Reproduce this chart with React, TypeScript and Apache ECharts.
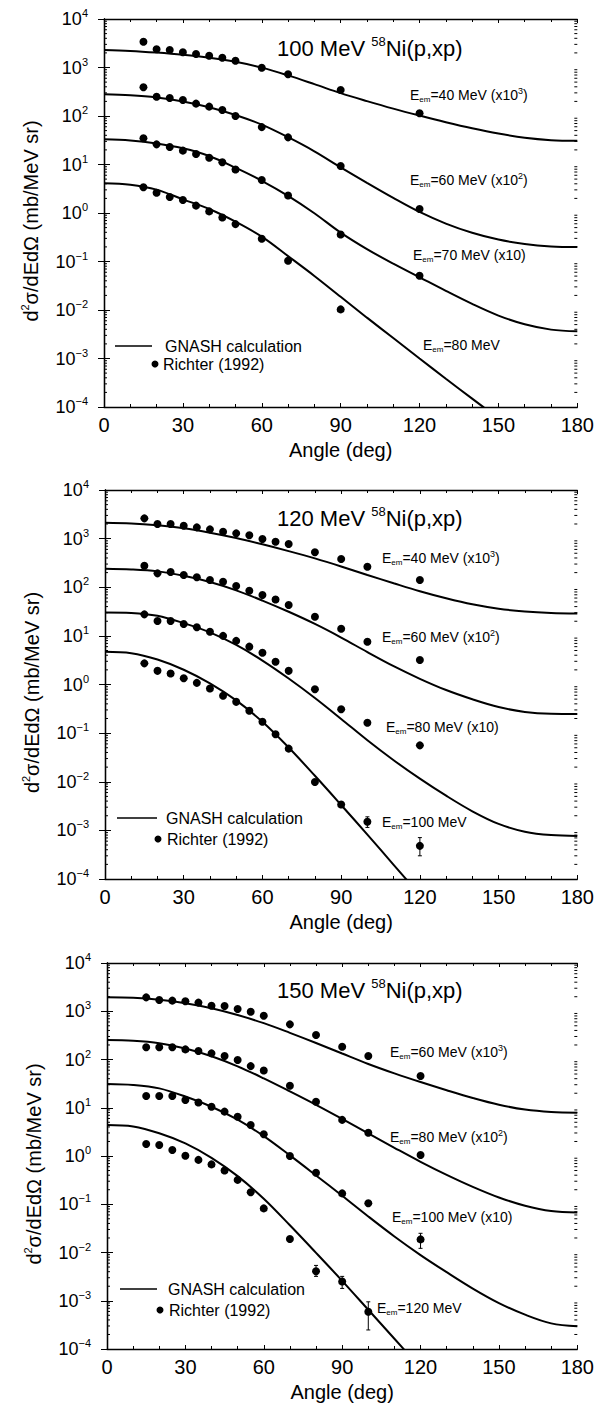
import React, { useEffect, useRef } from "react";
import * as echarts from "echarts";

const FONT = '"Liberation Sans", Arial, Helvetica, sans-serif';

// ---------- shared ----------
const curveAngles = [0, 10, 20, 30, 40, 50, 60, 70, 80, 90, 100, 110, 120, 130, 140, 150, 160, 170, 180];
const xTickLabels = ["0", "30", "60", "90", "120", "150", "180"];
const legendLine = "GNASH calculation";
const legendDots = "Richter (1992)";
const xName = "Angle (deg)";

// ---------- panel 1 : 100 MeV ----------
const p1Title = ["100 MeV ", "58", "Ni(p,xp)"];
const p1Energies = [40, 60, 70, 80];
const p1Scales = ["3", "2", "1", ""];
const p1Curve40 = [2301, 2198, 2028, 1828, 1592, 1309, 993, 687, 454, 296, 203, 142, 102, 74.5, 55.8, 43.4, 35.6, 31.8, 30.7];
const p1Curve60 = [280, 267, 241, 200, 152, 105, 66.4, 36.5, 18.7, 8.75, 4.19, 2.05, 1.05, 0.605, 0.391, 0.283, 0.23, 0.205, 0.198];
const p1Curve70 = [33.1, 31.3, 27.2, 21.6, 15.0, 8.6, 4.62, 2.26, 0.99, 0.394, 0.18, 0.0902, 0.0473, 0.0248, 0.01334, 0.00767, 0.00507, 0.00394, 0.00363];
const p1Curve80 = [4.09, 3.82, 3.03, 1.91, 1.21, 0.664, 0.325, 0.129, 0.0504, 0.0187, 0.00695, 0.00264, 0.001, 0.000382, 0.000149, 0.0000578];
const p1Angles = [15, 20, 25, 30, 35, 40, 45, 50, 60, 70, 90, 120];
const p1Data40 = [3400, 2370, 2290, 2060, 1900, 1750, 1590, 1380, 990, 724, 344, 114];
const p1Data60 = [391, 250, 235, 214, 180, 156, 133, 100, 59, 36.3, 9.3, 1.21];
const p1Data70 = [34.7, 26, 23, 19.3, 16.5, 13.8, 11.1, 7.9, 4.8, 2.3, 0.36, 0.051];
const p1Angles80 = [15, 20, 25, 30, 35, 40, 45, 50, 60, 70, 90];
const p1Data80 = [3.4, 2.62, 2.14, 1.85, 1.42, 1.08, 0.81, 0.59, 0.295, 0.104, 0.0103];

// ---------- panel 2 : 120 MeV ----------
const p2Title = ["120 MeV ", "58", "Ni(p,xp)"];
const p2Energies = [40, 60, 80, 100];
const p2Scales = ["3", "2", "1", ""];
const p2Curve40 = [2128, 2056, 1875, 1633, 1327, 1030, 764, 553, 392, 268, 179, 121, 82.8, 59.3, 44.5, 36.1, 31.8, 29.7, 29.0];
const p2Curve60 = [240, 232, 212, 172, 128, 86.3, 53.2, 31.3, 17.6, 9.25, 4.63, 2.38, 1.31, 0.769, 0.497, 0.344, 0.273, 0.249, 0.246];
const p2Curve80 = [30.4, 29.7, 25.9, 18.3, 11.8, 6.5, 3.11, 1.33, 0.528, 0.196, 0.0713, 0.0277, 0.01156, 0.00516, 0.00247, 0.00136, 0.00094, 0.0008, 0.00077];
const p2Curve100 = [4.71, 4.4, 3.26, 2.01, 1.054, 0.471, 0.171, 0.0505, 0.01327, 0.00333, 0.000818, 0.000196, 0.0000471];
const p2Angles = [15, 20, 25, 30, 35, 40, 45, 50, 55, 60, 65, 70, 80, 90, 100, 120];
const p2Data40 = [2610, 2000, 2000, 1845, 1706, 1550, 1387, 1284, 1170, 982, 863, 774, 523, 380, 264, 141];
const p2Data60 = [277, 193, 206, 178, 160, 141, 130, 106, 85, 69, 56, 43, 24.7, 14, 7.6, 3.18];
const p2Data80 = [27.7, 20.2, 20.2, 17.5, 15, 12.2, 10, 7.9, 6.0, 4.5, 2.93, 1.91, 0.8, 0.31, 0.163, 0.056];
const p2Data100 = [2.72, 1.91, 1.69, 1.34, 1.08, 0.83, 0.586, 0.44, 0.288, 0.171, 0.095, 0.048, 0.0099, 0.0034, 0.0015, 0.00048];
const p2ErrAngles = [100, 120];
const p2ErrLow = [0.00115, 0.0003];
const p2ErrHigh = [0.0019, 0.00071];

// ---------- panel 3 : 150 MeV ----------
const p3Title = ["150 MeV ", "58", "Ni(p,xp)"];
const p3Energies = [60, 80, 100, 120];
const p3Scales = ["3", "2", "1", ""];
const p3Curve60 = [1941, 1897, 1730, 1472, 1156, 837, 566, 357, 220, 133, 80.9, 51.6, 34.1, 23.1, 15.96, 11.56, 9.18, 8.18, 7.91];
const p3Curve80 = [254, 245, 218, 169, 117, 72.3, 40.6, 21.8, 11.5, 5.87, 2.94, 1.48, 0.757, 0.406, 0.229, 0.138, 0.0931, 0.0723, 0.0675];
const p3Curve100 = [31.0, 29.6, 25.2, 17.1, 10.5, 5.65, 2.58, 1.028, 0.395, 0.15, 0.0558, 0.0215, 0.00885, 0.00391, 0.00179, 0.000895, 0.000515, 0.00034, 0.000296];
const p3Curve120 = [4.4, 4.1, 2.97, 1.83, 0.918, 0.383, 0.13, 0.0366, 0.00984, 0.00259, 0.00065, 0.000163, 0.000041];
const p3Angles = [15, 20, 25, 30, 35, 40, 45, 50, 55, 60, 70, 80, 90, 100, 120];
const p3Data60 = [1940, 1710, 1660, 1610, 1510, 1305, 1286, 1115, 980, 808, 535, 322, 184, 118, 45.5];
const p3Data80 = [179, 179, 179, 162, 150, 134, 118, 98, 73, 59, 28.6, 13.3, 5.6, 3.04, 1.05];
const p3Data100 = [17.5, 17.5, 17.5, 14.5, 12.8, 10.5, 8.3, 6.5, 4.4, 2.82, 1.0, 0.45, 0.168, 0.105, 0.0187];
const p3Angles120 = [15, 20, 25, 30, 35, 40, 45, 50, 55, 60, 70, 80, 90, 100];
const p3Data120 = [1.77, 1.69, 1.33, 1.01, 0.83, 0.67, 0.5, 0.32, 0.177, 0.082, 0.019, 0.0041, 0.0025, 0.00059];
const p3ErrAngles = [120, 80, 90, 100];
const p3ErrLow = [0.0122, 0.0032, 0.0018, 0.000248];
const p3ErrHigh = [0.025, 0.0054, 0.0032, 0.00095];

// ---------- layout (pixels) ----------
const GRIDS = [
  { left: 104, top: 19, width: 474, height: 388 },
  { left: 105, top: 490, width: 474, height: 389 },
  { left: 107, top: 963, width: 475, height: 386 },
];
const TITLE_POS = [[277, 48], [277, 518], [277, 990]];
const LABEL_POS = [
  [[410, 95], [410, 180], [413, 255], [423, 345]],
  [[382, 558], [382, 637], [386, 727], [382, 822]],
  [[390, 1052], [390, 1137], [392, 1217], [377, 1308]],
];
const LEGEND_POS = [
  { lx1: 115, lx2: 152, ly: 346, tx: 165, dx: 155, dy: 364, dtx: 163 },
  { lx1: 117, lx2: 157, ly: 818, tx: 166, dx: 158, dy: 839, dtx: 167 },
  { lx1: 120, lx2: 157, ly: 1289, tx: 168, dx: 160, dy: 1310, dtx: 169 },
];

const panels = [
  {
    title: p1Title, energies: p1Energies, scales: p1Scales,
    curves: [p1Curve40, p1Curve60, p1Curve70, p1Curve80],
    points: [[p1Angles, p1Data40], [p1Angles, p1Data60], [p1Angles, p1Data70], [p1Angles80, p1Data80]],
    errors: [[], [], []],
  },
  {
    title: p2Title, energies: p2Energies, scales: p2Scales,
    curves: [p2Curve40, p2Curve60, p2Curve80, p2Curve100],
    points: [[p2Angles, p2Data40], [p2Angles, p2Data60], [p2Angles, p2Data80], [p2Angles, p2Data100]],
    errors: [p2ErrAngles, p2ErrLow, p2ErrHigh],
  },
  {
    title: p3Title, energies: p3Energies, scales: p3Scales,
    curves: [p3Curve60, p3Curve80, p3Curve100, p3Curve120],
    points: [[p3Angles, p3Data60], [p3Angles, p3Data80], [p3Angles, p3Data100], [p3Angles120, p3Data120]],
    errors: [p3ErrAngles, p3ErrLow, p3ErrHigh],
  },
];

// minor tick positions of the log axis (2..9 x 10^n)
const minorTickValues: number[] = [];
for (let n = -4; n < 4; n++) for (let k = 2; k <= 9; k++) minorTickValues.push(k * Math.pow(10, n));

const supLabel = (v: number) => {
  const e = Math.round(Math.log10(v));
  return `{b|10}{s|${e < 0 ? "\u2212" + Math.abs(e) : e}}`;
};

function buildOption() {
  const grid: any[] = [];
  const xAxis: any[] = [];
  const yAxis: any[] = [];
  const series: any[] = [];
  const graphic: any[] = [];
  const axisLine = { show: true, lineStyle: { color: "#000", width: 1.3 } };

  panels.forEach((p, i) => {
    grid.push({ ...GRIDS[i], containLabel: false });
    const baseX = {
      type: "value", gridIndex: i, min: 0, max: 180, interval: 30,
      axisLine, splitLine: { show: false },
      axisTick: { show: true, inside: true, length: 4, lineStyle: { color: "#000" } },
      minorTick: { show: true, splitNumber: 3, length: 3, lineStyle: { color: "#000" } },
    };
    xAxis.push({
      ...baseX, position: "bottom",
      axisLabel: {
        show: true, color: "#000", fontSize: 20, fontFamily: FONT, margin: 8,
        formatter: (v: number) => xTickLabels[Math.round(v / 30)] ?? String(v),
      },
      name: xName, nameLocation: "middle", nameGap: 33,
      nameTextStyle: { color: "#000", fontSize: 20, fontFamily: FONT },
    });
    xAxis.push({ ...baseX, position: "top", axisLabel: { show: false } });
    const baseY = {
      type: "log", gridIndex: i, min: 1e-4, max: 1e4, logBase: 10, splitNumber: 8,
      axisLine, splitLine: { show: false },
      axisTick: { show: true, inside: true, length: 6, lineStyle: { color: "#000" } },
    };
    yAxis.push({
      ...baseY, position: "left",
      axisLabel: {
        show: true, margin: 16, formatter: supLabel,
        rich: {
          b: { fontSize: 18, fontFamily: FONT, color: "#000" },
          s: { fontSize: 11, fontFamily: FONT, color: "#000", padding: [0, 0, 12, 0] },
        },
      },
      name: "{t|d}{s|2}{t|\u03c3/dEd\u03a9 (mb/MeV sr)}",
      nameLocation: "middle", nameGap: 62,
      nameTextStyle: {
        padding: [0, 16, 0, 0],
        rich: {
          t: { fontSize: 20, fontFamily: FONT, color: "#000" },
          s: { fontSize: 11, fontFamily: FONT, color: "#000", padding: [0, 0, 12, 0] },
        },
      },
    });
    yAxis.push({ ...baseY, position: "right", axisLabel: { show: false } });

    const xi = 2 * i;
    p.curves.forEach((c) => {
      series.push({
        type: "line", xAxisIndex: xi, yAxisIndex: xi, showSymbol: false, smooth: 0.35,
        clip: true, silent: true,
        lineStyle: { color: "#000", width: 2 },
        data: c.map((v, k) => [curveAngles[k], v]),
      });
    });
    p.points.forEach(([ang, vals]) => {
      series.push({
        type: "scatter", xAxisIndex: xi, yAxisIndex: xi, symbol: "circle", symbolSize: 8,
        itemStyle: { color: "#000", opacity: 1 }, silent: true,
        data: (vals as number[]).map((v, k) => [(ang as number[])[k], v]),
      });
    });
    const [ea, elo, ehi] = p.errors as number[][];
    if (ea.length) {
      series.push({
        type: "custom", xAxisIndex: xi, yAxisIndex: xi, silent: true, clip: false,
        data: ea.map((a, k) => [a, elo[k], ehi[k]]),
        renderItem: (params: any, api: any) => {
          const lo = api.coord([api.value(0), api.value(1)]);
          const hi = api.coord([api.value(0), api.value(2)]);
          const st = { stroke: "#000", lineWidth: 1 };
          return {
            type: "group",
            children: [
              { type: "line", shape: { x1: lo[0], y1: lo[1], x2: hi[0], y2: hi[1] }, style: st },
              { type: "line", shape: { x1: lo[0] - 2, y1: lo[1], x2: lo[0] + 2, y2: lo[1] }, style: st },
              { type: "line", shape: { x1: hi[0] - 2, y1: hi[1], x2: hi[0] + 2, y2: hi[1] }, style: st },
            ],
          };
        },
      });
    }
    // minor ticks of log axes (left and right)
    series.push({
      type: "custom", xAxisIndex: xi, yAxisIndex: xi, silent: true, clip: false,
      data: minorTickValues.map((v) => [0, v]),
      renderItem: (params: any, api: any) => {
        const cs = params.coordSys;
        const y = api.coord([0, api.value(1)])[1];
        const st = { stroke: "#000", lineWidth: 1 };
        return {
          type: "group",
          children: [
            { type: "line", shape: { x1: cs.x, y1: y, x2: cs.x + 3, y2: y }, style: st },
            { type: "line", shape: { x1: cs.x + cs.width - 3, y1: y, x2: cs.x + cs.width, y2: y }, style: st },
          ],
        };
      },
    });

    // title
    graphic.push({
      type: "text", x: TITLE_POS[i][0], y: TITLE_POS[i][1], silent: true,
      style: {
        text: `{t|${p.title[0]}}{s|${p.title[1]}}{t|${p.title[2]}}`,
        verticalAlign: "middle", fill: "#000",
        rich: {
          t: { fontSize: 22, fontFamily: FONT, fill: "#000" },
          s: { fontSize: 13, fontFamily: FONT, fill: "#000", padding: [0, 0, 14, 0] },
        },
      },
    });
    // E_em labels
    p.energies.forEach((e, k) => {
      const sc = p.scales[k];
      const tail = sc === "" ? "" : sc === "1" ? "{t| (x10)}" : `{t| (x10}{sup|${sc}}{t|)}`;
      graphic.push({
        type: "text", x: LABEL_POS[i][k][0], y: LABEL_POS[i][k][1], silent: true,
        style: {
          text: `{t|E}{sub|em}{t|=${e} MeV}${tail}`,
          verticalAlign: "middle", fill: "#000",
          rich: {
            t: { fontSize: 14, fontFamily: FONT, fill: "#000" },
            sub: { fontSize: 8, fontFamily: FONT, fill: "#000", padding: [8, 0, 0, 0] },
            sup: { fontSize: 9, fontFamily: FONT, fill: "#000", padding: [0, 0, 9, 0] },
          },
        },
      });
    });
    // legend
    const L = LEGEND_POS[i];
    graphic.push(
      { type: "line", silent: true, shape: { x1: L.lx1, y1: L.ly, x2: L.lx2, y2: L.ly }, style: { stroke: "#000", lineWidth: 1.5 } },
      { type: "text", silent: true, x: L.tx, y: L.ly, style: { text: legendLine, fontSize: 16, fontFamily: FONT, fill: "#000", verticalAlign: "middle" } },
      { type: "circle", silent: true, shape: { cx: L.dx, cy: L.dy, r: 3.5 }, style: { fill: "#000" } },
      { type: "text", silent: true, x: L.dtx, y: L.dy, style: { text: legendDots, fontSize: 16, fontFamily: FONT, fill: "#000", verticalAlign: "middle" } },
    );
  });

  return {
    animation: false,
    backgroundColor: "#fff",
    textStyle: { fontFamily: FONT },
    grid, xAxis, yAxis, series, graphic,
  };
}

export default function App() {
  const ref = useRef<HTMLDivElement>(null);
  useEffect(() => {
    if (!ref.current) return;
    const chart = echarts.init(ref.current, undefined, { renderer: "svg" });
    chart.setOption(buildOption() as any);
    return () => chart.dispose();
  }, []);
  return (
    <div
      ref={ref}
      style={{ position: "absolute", left: 0, top: 0, width: 597, height: 1410, background: "#fff" }}
    />
  );
}
